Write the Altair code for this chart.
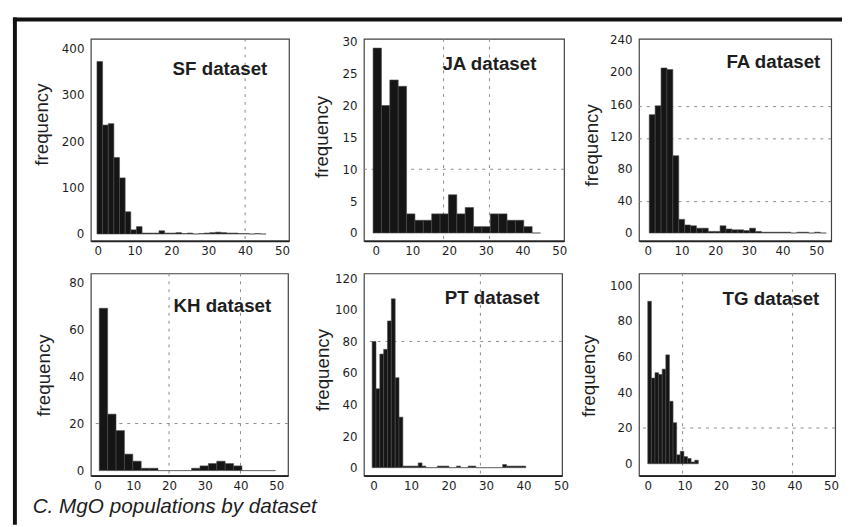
import altair as alt
import pandas as pd

# ---------------- data ----------------
datasets = ["SF dataset", "JA dataset", "FA dataset", "KH dataset", "PT dataset", "TG dataset"]

sf_counts = [372, 235, 238, 165, 121, 48, 9, 16, 2, 2, 2, 7, 2, 2, 3, 1, 2, 0, 1, 2,
             3, 4, 3, 2, 2, 1, 1, 0, 1, 0]
ja_counts = [29, 20, 24, 23, 3, 2, 2, 3, 3, 6, 3, 4, 1, 1, 3, 3, 2, 2, 1, 0]
fa_counts = [147, 158, 205, 203, 96, 17, 10, 9, 6, 6, 2, 2, 9, 5, 4, 4, 3, 6, 2, 1,
             1, 1, 1, 1, 0, 1, 1, 0, 1, 0]
kh_counts = [69, 24, 17, 7, 4, 1, 1, 0, 0, 0, 0, 1, 2, 3, 4, 3, 2, 0, 0, 0, 0]
pt_counts = [80, 50, 72, 75, 93, 107, 57, 32, 1, 1, 1, 1, 3, 1, 0, 0, 0, 1, 1, 1,
             0, 0, 1, 0, 0, 1, 1, 0, 0, 0, 0, 0, 0, 0, 2, 1, 1, 1, 1, 1]
tg_counts = [91, 48, 51, 50, 53, 61, 35, 23, 5, 7, 4, 3, 1, 2]
all_counts = [sf_counts, ja_counts, fa_counts, kh_counts, pt_counts, tg_counts]

# first bin edge and bin width (MgO wt%) of each histogram
bin_start = [-0.2, -0.7, 0.45, 0.46, -0.4, 0.0]
bin_width = [1.53, 2.28, 1.75, 2.35, 1.025, 0.985]

x_ticks = [0, 10, 20, 30, 40, 50]
y_ticks = [
    [0, 100, 200, 300, 400],
    [0, 5, 10, 15, 20, 25, 30],
    [0, 40, 80, 120, 160, 200, 240],
    [0, 20, 40, 60, 80],
    [0, 20, 40, 60, 80, 100, 120],
    [0, 20, 40, 60, 80, 100],
]
x_domains = [[-1.87, 51.9], [-3.2, 51.3], [-2.6, 54.4], [-1.9, 53.3], [-2.6, 50.3], [-2.4, 51.1]]
y_domains = [[-14.9, 421], [-1.24, 30.46], [-9.8, 241.2], [-2.1, 83.8], [-5, 123.1], [-6.6, 106.6]]

# faint dashed reference lines visible in the scan
grid_x = [[40], [18.5, 31], [], [20, 40], [28.5], [9.5, 39.5]]
grid_y = [[], [10], [157, 117, 39], [20], [80], [20]]

y_title = "frequency"
caption = "C. MgO populations by dataset"

# ---------------- layout / style ----------------
widths = [201, 203, 195, 200, 201, 199]
height = 205
label_right = [22, 28, 11, 17, 23, 16]
label_base = [37, 32, 30, 39, 31, 32]
title_x = [-39.5, -32.5, -38, -38, -31.5, -41]
title_y = [86.5, 99, 107.5, 103, 97.5, 103.5]

INK = "#1e1e1e"


def panel(i):
    counts = all_counts[i]
    x0 = [bin_start[i] + k * bin_width[i] for k in range(len(counts))]
    x1 = [v + bin_width[i] for v in x0]
    df = pd.DataFrame({"x0": x0, "x1": x1, "count": counts})

    xs = alt.Scale(domain=x_domains[i], nice=False, zero=False)
    ys = alt.Scale(domain=y_domains[i], nice=False, zero=False)
    xa = alt.Axis(values=x_ticks, title=None, format="d")
    ya = alt.Axis(values=y_ticks[i], title=y_title, format="d",
                  titleX=title_x[i], titleY=title_y[i])

    layers = []
    if grid_x[i]:
        layers.append(
            alt.Chart(pd.DataFrame({"x0": grid_x[i]}))
            .mark_rule(color="#8a8a8a", strokeDash=[3, 5], strokeWidth=1)
            .encode(x=alt.X("x0:Q", scale=xs, axis=xa))
        )
    if grid_y[i]:
        layers.append(
            alt.Chart(pd.DataFrame({"count": grid_y[i]}))
            .mark_rule(color="#8a8a8a", strokeDash=[3, 5], strokeWidth=1)
            .encode(y=alt.Y("count:Q", scale=ys, axis=ya))
        )
    layers.append(
        alt.Chart(df)
        .mark_rect(color="#151515", stroke="#4a4a4a", strokeWidth=0.6)
        .encode(
            x=alt.X("x0:Q", scale=xs, axis=xa),
            x2="x1:Q",
            y=alt.Y("count:Q", scale=ys, axis=ya),
            y2=alt.datum(0),
        )
    )
    layers.append(
        alt.Chart(pd.DataFrame({"t": [datasets[i]]}))
        .mark_text(font="Liberation Sans", fontSize=19, fontWeight="bold",
                   color=INK, align="right", baseline="alphabetic")
        .encode(text="t:N", x=alt.value(widths[i] - label_right[i]),
                y=alt.value(label_base[i]))
    )
    if i == 0:
        one = pd.DataFrame({"k": [0]})
        layers.append(
            alt.Chart(one).mark_rule(color="#111", strokeWidth=4)
            .encode(x=alt.value(-79), x2=alt.value(762), y=alt.value(-19.5))
        )
        layers.append(
            alt.Chart(one).mark_rule(color="#111", strokeWidth=4)
            .encode(x=alt.value(-77), y=alt.value(-21.5), y2=alt.value(493))
        )
    if i == 3:
        layers.append(
            alt.Chart(pd.DataFrame({"t": [caption]}))
            .mark_text(font="Liberation Sans", fontSize=21, fontStyle="italic",
                       color=INK, align="left", baseline="alphabetic")
            .encode(text="t:N", x=alt.value(-59), y=alt.value(243))
        )
    return alt.layer(*layers).properties(width=widths[i], height=height)


panels = [panel(i) for i in range(6)]

chart = (
    alt.concat(*panels, columns=3, spacing={"row": 33, "column": 76}, bounds="flush")
    .properties(padding={"left": 2, "top": 2.5, "right": 0, "bottom": 0},
                background="white")
    .configure_view(stroke="#404040", strokeWidth=1.2)
    .configure_axis(
        labelFont="DejaVu Sans", labelFontSize=12, labelColor=INK,
        titleFont="Liberation Sans", titleFontSize=19, titleFontWeight="normal",
        titleColor=INK, ticks=False, grid=False, domain=False,
    )
    .configure_axisX(labelPadding=5, domain=True, domainColor="#222", domainWidth=1.8)
    .configure_axisY(labelPadding=7, minExtent=30, maxExtent=30, titlePadding=8)
)

chart.save("out.html", embed_options={"renderer": "svg", "actions": False})
